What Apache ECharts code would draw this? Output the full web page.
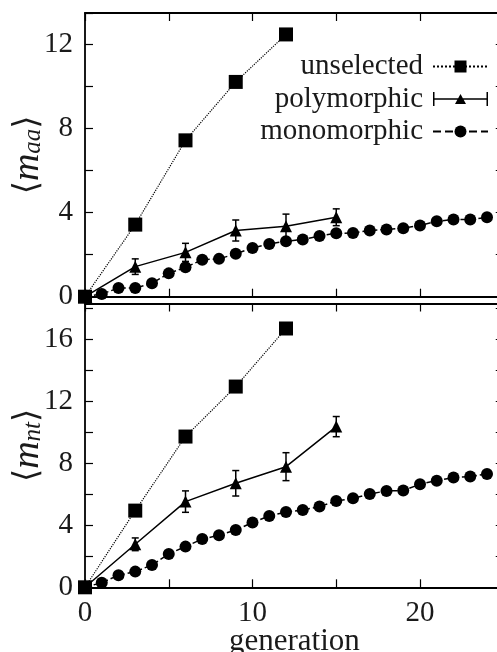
<!DOCTYPE html>
<html>
<head>
<meta charset="utf-8">
<script src="https://cdn.jsdelivr.net/npm/echarts@6/dist/echarts.min.js"></script>
<style>
  html, body { margin: 0; padding: 0; background: #fff; }
  #chart { width: 497px; height: 652px; }
</style>
</head>
<body>
<div id="chart"></div>
<script>
// values
var unselGen = [0, 3, 6, 9, 12];
var unselAA = [0, 3.43, 7.44, 10.22, 12.48];
var unselNT = [0, 4.94, 9.71, 12.93, 16.67];

var polyGen = [0, 3, 6, 9, 12, 15];
var polyAA = [0, 1.43, 2.11, 3.15, 3.35, 3.78];
var polyAAErr = [0, 0.37, 0.43, 0.5, 0.58, 0.4];
var polyNT = [0, 2.77, 5.52, 6.70, 7.77, 10.35];
var polyNTErr = [0, 0.41, 0.69, 0.82, 0.9, 0.65];

var monoGen = [0, 1, 2, 3, 4, 5, 6, 7, 8, 9, 10, 11, 12, 13, 14, 15, 16, 17, 18, 19, 20, 21, 22, 23, 24];
var monoAA = [0, 0.13, 0.41, 0.41, 0.64, 1.11, 1.40, 1.76, 1.80, 2.04, 2.32, 2.51, 2.64, 2.72, 2.89, 3.02, 3.03, 3.15, 3.20, 3.26, 3.39, 3.59, 3.67, 3.67, 3.78];
var monoNT = [0, 0.30, 0.77, 1.01, 1.44, 2.15, 2.62, 3.11, 3.35, 3.69, 4.17, 4.60, 4.85, 4.98, 5.20, 5.56, 5.73, 6.01, 6.21, 6.23, 6.64, 6.87, 7.07, 7.13, 7.30];

var font = 'Liberation Serif';
var ink = '#1a1a1a';

function pairs(xs, ys) {
  return xs.map(function (x, i) { return [x, ys[i]]; });
}
function errData(xs, ys, es) {
  var out = [];
  for (var i = 0; i < xs.length; i++) {
    if (es[i] > 0) out.push([xs[i], ys[i], es[i]]);
  }
  return out;
}
function errBars(params, api) {
  var x = api.value(0), y = api.value(1), e = api.value(2);
  var hi = api.coord([x, y + e]);
  var lo = api.coord([x, y - e]);
  var w = 3.5;
  var st = { stroke: '#000', lineWidth: 1.5 };
  return {
    type: 'group',
    children: [
      { type: 'line', shape: { x1: hi[0], y1: hi[1], x2: lo[0], y2: lo[1] }, style: st },
      { type: 'line', shape: { x1: hi[0] - w, y1: hi[1], x2: hi[0] + w, y2: hi[1] }, style: st },
      { type: 'line', shape: { x1: lo[0] - w, y1: lo[1], x2: lo[0] + w, y2: lo[1] }, style: st }
    ]
  };
}

var axisLine = { show: true, onZero: false, lineStyle: { color: '#000', width: 1.8 } };
// ticks point into the plot
var tick = { show: true, inside: true, length: 8, lineStyle: { color: '#000', width: 1.2 } };

function xAx(grid, pos, labels) {
  return {
    type: 'value', gridIndex: grid, position: pos, min: 0, max: 25, interval: 5,
    axisLine: axisLine, axisTick: tick, splitLine: { show: false },
    axisLabel: { show: labels, fontFamily: font, fontSize: 29, color: ink, margin: 12,
      formatter: function (v) { return v % 10 === 0 ? v : ''; } }
  };
}
function yAx(grid, pos, max, labels, name) {
  return {
    type: 'value', gridIndex: grid, position: pos, min: 0, max: max, interval: 2,
    axisLine: axisLine, axisTick: tick, splitLine: { show: false },
    axisLabel: { show: labels, fontFamily: font, fontSize: 29, color: ink, margin: 12,
      formatter: function (v) { return v % 4 === 0 ? v : ''; } },
    name: name || '', nameLocation: 'middle', nameGap: 39, nameMoveOverlap: false,
    nameTextStyle: {
      color: ink,
      rich: {
        b: { fontFamily: 'DejaVu Serif', fontSize: 34, color: ink, lineHeight: 36 },
        m: { fontFamily: font, fontStyle: 'italic', fontSize: 38, color: ink, lineHeight: 36 },
        s: { fontFamily: font, fontStyle: 'italic', fontSize: 25, color: ink, lineHeight: 14, verticalAlign: 'bottom' }
      }
    }
  };
}

function lineSeries(name, xi, yi, data, symbol, size, type, width) {
  return {
    name: name, type: 'line', xAxisIndex: xi, yAxisIndex: yi, data: data,
    symbol: symbol, symbolSize: size, showSymbol: true,
    itemStyle: { color: '#000' },
    lineStyle: { color: '#000', width: width, type: type },
    animation: false, z: 3
  };
}

var chart = echarts.init(document.getElementById('chart'));
var option = {
  animation: false,
  backgroundColor: '#fff',
  grid: [
    { left: 85, top: 13, width: 418.75, height: 283.7, outerBoundsMode: 'none', containLabel: false },
    { left: 85, top: 303.5, width: 418.75, height: 283.8, outerBoundsMode: 'none', containLabel: false }
  ],
  legend: {
    orient: 'vertical', right: 3, top: 47, align: 'right',
    itemWidth: 55, itemHeight: 15, itemGap: 3.5,
    textStyle: { fontFamily: font, fontSize: 29, color: ink, lineHeight: 29, padding: [0, 5, 0, 0] },
    data: [
      { name: 'unselected' },
      { name: 'polymorphic', icon: 'path://M0,0h1.5v14h-1.5zM0,6.2h55v1.6h-55zM53.5,0h1.5v14h-1.5zM22,12L27.5,2L33,12z' },
      { name: 'monomorphic' }
    ]
  },
  xAxis: [
    xAx(0, 'bottom', false),
    xAx(0, 'top', false),
    Object.assign(xAx(1, 'bottom', true), {
      name: 'generation', nameLocation: 'middle', nameGap: 39, nameMoveOverlap: false,
      nameTextStyle: { fontFamily: font, fontSize: 31, color: ink }
    }),
    xAx(1, 'top', false)
  ],
  yAxis: [
    yAx(0, 'left', 13.5, true, '{b|\u27E8}{m|m}{s|aa}{b|\u27E9}'),
    yAx(0, 'right', 13.5, false),
    yAx(1, 'left', 18.28, true, '{b|\u27E8}{m|m}{s|nt}{b|\u27E9}'),
    yAx(1, 'right', 18.28, false)
  ],
  series: [
    lineSeries('unselected', 0, 0, pairs(unselGen, unselAA), 'rect', 14, 'dotted', 1.2),
    lineSeries('polymorphic', 0, 0, pairs(polyGen, polyAA), 'triangle', 12, 'solid', 1.5),
    lineSeries('monomorphic', 0, 0, pairs(monoGen, monoAA), 'circle', 12, 'dashed', 1.5),
    { type: 'custom', xAxisIndex: 0, yAxisIndex: 0, renderItem: errBars,
      data: errData(polyGen, polyAA, polyAAErr), z: 4 },
    lineSeries('unselected', 2, 2, pairs(unselGen, unselNT), 'rect', 14, 'dotted', 1.2),
    lineSeries('polymorphic', 2, 2, pairs(polyGen, polyNT), 'triangle', 12, 'solid', 1.5),
    lineSeries('monomorphic', 2, 2, pairs(monoGen, monoNT), 'circle', 12, 'dashed', 1.5),
    { type: 'custom', xAxisIndex: 2, yAxisIndex: 2, renderItem: errBars,
      data: errData(polyGen, polyNT, polyNTErr), z: 4 }
  ]
};
option && chart.setOption(option);
</script>
</body>
</html>
